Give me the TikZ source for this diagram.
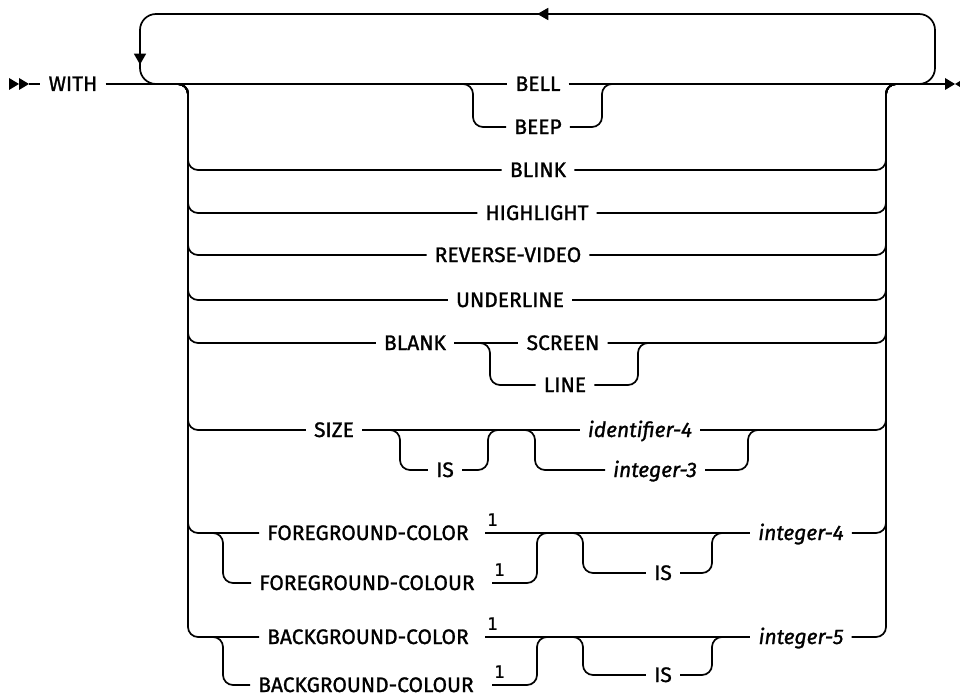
\documentclass[tikz,border=0pt]{standalone}
\usepackage{fontspec}
\setsansfont{Fira Sans}[FakeBold=1.2]
\setmonofont{DejaVu Sans Mono}[FakeBold=0.8]
\usetikzlibrary{calc}
\usetikzlibrary{arrows.meta}
\usetikzlibrary{decorations.markings}

\begin{document}
\begin{tikzpicture}[
	x=1pt, y=-1pt,
	kw/.style = {inner xsep=8pt, inner ysep=0pt, text height=14pt, text depth=0pt, font=\sffamily\fontsize{21}{25}\selectfont},
	var/.style = {kw, font=\sffamily\itshape\fontsize{21}{25}\selectfont},
	sup/.style = {anchor=south west, inner xsep=2pt, inner ysep=7pt, font=\ttfamily\fontsize{17}{20}\selectfont},
	r/.style = {line width=1.7pt, rounded corners=10pt},
	lp/.style = {line width=1.7pt, rounded corners=16pt,
		postaction={decorate, decoration={markings,
			mark=at position 474pt with {\arrow{Triangle[length=11pt,width=12pt]}},
			mark=at position 915pt with {\arrow{Triangle[length=11pt,width=12pt]}}}}}
	]
	\useasboundingbox (0,0) rectangle (960,698);
	
	% === === Nodes === ===
	\node[kw]	(with)		at	(73, 84)	{WITH};
	\node[kw]	(bell)		at	(538, 84)	{BELL};
	\node[kw]	(beep)		at	(538, 127)	{BEEP};
	\node[kw]	(blink)		at	(538, 170)	{BLINK};
	\node[kw]	(hilite)	at	(537, 213)	{HIGHLIGHT};
	\node[kw]	(rvideo)	at	(508, 255)	{REVERSE-VIDEO};
	\node[kw]	(uline)		at	(510, 300)	{UNDERLINE};
	\node[kw]	(blank)		at	(415, 343)	{BLANK};
	\node[kw]	(screen)	at	(563, 343)	{SCREEN};
	\node[kw]	(line)		at	(565, 385)	{LINE};
	\node[kw]	(size)		at	(334, 430)	{SIZE};
	\node[kw]	(is1)		at	(445, 470)	{IS};
	\node[var]	(ident)		at	(640, 430)	{identifier-4};
	\node[var]	(int3)		at	(655, 470)	{integer-3};
	
	\node[kw]	(fgc)		at	(368, 533)	{FOREGROUND-COLOR};
	\node[kw]	(fgcu)		at	(367, 583)	{FOREGROUND-COLOUR};
	\node[kw]	(is2)		at	(663, 573)	{IS};
	\node[var]	(int4)		at	(801, 533)	{integer-4};
	\node[sup]	(fgn1)		at	(485, 533)	{1};
	\node[sup]	(fgn2)		at	(492, 583)	{1};
	
	\node[kw]	(bgc)		at	(368, 637)	{BACKGROUND-COLOR};
	\node[kw]	(bgcu)		at	(366, 685)	{BACKGROUND-COLOUR};
	\node[kw]	(is3)		at	(663, 675)	{IS};
	\node[var]	(int5)		at	(801, 637)	{integer-5};
	\node[sup]	(bgn1)		at	(485, 637)	{1};
	\node[sup]	(bgn2)		at	(492, 685)	{1};
	
	% === === Coordinates === ===
	\coordinate (st)	at	(29, 84);
	\coordinate (en)	at	(945, 84);
	\coordinate (ls)	at	(176, 84);
	\coordinate (lv)	at	(188, 84);
	\coordinate (rv)	at	(886, 84);
	\coordinate (re)	at	(898, 84);
	\coordinate (lp1)	at	(915, 84);
	\coordinate (lp2)	at	(935, 14);
	\coordinate (lp3)	at	(140, 84);
	\coordinate (lp4)	at	(160, 84);
	\coordinate (bbl)	at	(473, 84);
	\coordinate (bbr)	at	(602, 84);
	\coordinate (bsl)	at	(490, 343);
	\coordinate (bsr)	at	(638, 343);
	\coordinate (isl)	at	(400, 430);
	\coordinate (isr)	at	(488, 430);
	\coordinate (ixl)	at	(535, 430);
	\coordinate (ixr)	at	(748, 430);
	\coordinate (fcl)	at	(223, 533);
	\coordinate (fcr)	at	(537, 533);
	\coordinate (fil)	at	(583, 533);
	\coordinate (fir)	at	(712, 533);
	\coordinate (bcl)	at	(223, 637);
	\coordinate (bcr)	at	(537, 637);
	\coordinate (bil)	at	(583, 637);
	\coordinate (bir)	at	(712, 637);
	
	% === === Lines === ===
	\fill (9, 78) -- (19, 84) -- (9, 90) -- cycle;
	\fill (19, 78) -- (29, 84) -- (19, 90) -- cycle;
	\fill (945, 78) -- (955, 84) -- (945, 90) -- cycle;
	\fill (965, 78) -- (955, 84) -- (965, 90) -- cycle;
	
	\draw[r]	(st)	--	(with.west);
	\draw[r]	(with.east)	--	(bell.west);
	\draw[r]	(bell.east)	--	(en);
	\draw[lp]	(lp1)	-|	(lp2)	-|	(lp3)	--	(lp4);
	
	\foreach \n in {blink, hilite, rvideo, uline, blank, size, fgc, bgc}
		\draw[r]	(ls)	-|	(\n.west -| lv)	--	(\n.west);
	\foreach \n in {blink, hilite, rvideo, uline, screen, ident, int4, int5}
		\draw[r]	(\n.east)	-|	(rv)	--	(re);
	
	\draw[r]	(bbl) ++(-12, 0)	-|	(beep.west -| bbl)	--	(beep.west);
	\draw[r]	(beep.east)	-|	(bbr)	--	+(12, 0);
	
	\draw[r]	(blank.east)	--	(screen.west);
	\draw[r]	(bsl) ++(-12, 0)	-|	(line.west -| bsl)	--	(line.west);
	\draw[r]	(line.east)	-|	(bsr)	--	+(12, 0);
	
	\draw[r]	(size.east)	--	(ident.west);
	\draw[r]	(isl) ++(-12, 0)	-|	(is1.west -| isl)	--	(is1.west);
	\draw[r]	(is1.east)	-|	(isr)	--	+(12, 0);
	\draw[r]	(ixl) ++(-12, 0)	-|	(int3.west -| ixl)	--	(int3.west);
	\draw[r]	(int3.east)	-|	(ixr)	--	+(12, 0);
	
	\draw[r]	(fgn1.south west)	--	(int4.west);
	\draw[r]	(fcl) ++(-12, 0)	-|	(fgcu.west -| fcl)	--	(fgcu.west);
	\draw[r]	(fgn2.south west)	-|	(fcr)	--	+(12, 0);
	\draw[r]	(fil) ++(-12, 0)	-|	(is2.west -| fil)	--	(is2.west);
	\draw[r]	(is2.east)	-|	(fir)	--	+(12, 0);
	
	\draw[r]	(bgn1.south west)	--	(int5.west);
	\draw[r]	(bcl) ++(-12, 0)	-|	(bgcu.west -| bcl)	--	(bgcu.west);
	\draw[r]	(bgn2.south west)	-|	(bcr)	--	+(12, 0);
	\draw[r]	(bil) ++(-12, 0)	-|	(is3.west -| bil)	--	(is3.west);
	\draw[r]	(is3.east)	-|	(bir)	--	+(12, 0);
	
\end{tikzpicture}
\end{document}
